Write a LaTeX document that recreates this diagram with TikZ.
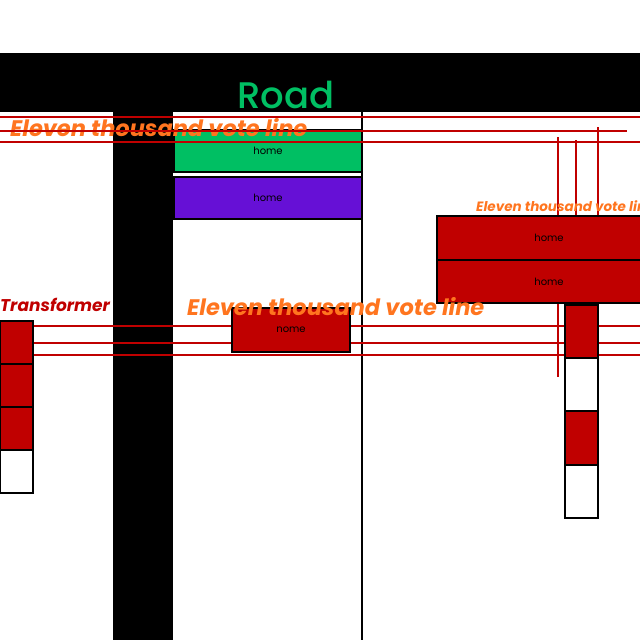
\documentclass[tikz,border=0pt]{standalone}
\usepackage{fontspec}
\setmainfont{Poppins}
\newfontfamily\roadfont{Poppins Medium}
\usepackage{tikz}
\definecolor{roadgreen}{HTML}{00BF63}
\definecolor{homepurple}{HTML}{6610D6}
\definecolor{wirered}{HTML}{C00000}
\definecolor{voteorange}{HTML}{FF751F}
\tikzset{
	house/.style={draw=black, line width=1.5pt, inner sep=0pt, outer sep=0pt, font=\fontsize{10}{10}\selectfont},
	wire/.style={draw=wirered, line width=2.3pt},
	votelabel/.style={text=voteorange, anchor=base west, inner sep=0pt, font=\bfseries\itshape}
}

\begin{document}
\begin{tikzpicture}[x=1pt,y=-1pt]
	\useasboundingbox (0,0) rectangle (640,640);
	\clip (0,0) rectangle (640,640);
	% road
	\fill[black](0,53) rectangle (640,112);
	\fill[black](113,112) rectangle (173,640);
	\draw[black, line width=2pt](362,112)--(362,640);
	\node[text=roadgreen, anchor=base, inner sep=0pt, font=\fontsize{37}{37}\selectfont\roadfont] (road) at (286,108) {Road};
	% vertical wires to the right homes
	\draw[wire](558,137)--(558,377);
	\draw[wire](576,140)--(576,377);
	\draw[wire](598,127)--(598,380);
	% transformer wires
	\draw[wire](33,326)--(640,326);
	\draw[wire](33,343)--(640,343);
	\draw[wire, line width=2.8pt](33,355)--(640,355);
	% homes
	\node[house, fill=roadgreen, minimum width=188pt, minimum height=42pt] (h1) at (268,151) {home};
	\node[house, fill=homepurple, minimum width=188pt, minimum height=42pt] (h2) at (268,198) {home};
	\node[house, fill=wirered, minimum width=224pt, minimum height=44pt] (h3) at (549,238) {home};
	\node[house, fill=wirered, minimum width=224pt, minimum height=43pt] (h4) at (549,281.5) {home};
	\node[house, fill=wirered, minimum width=118pt, minimum height=44pt] (h5) at (291,330) {nome};
	% pole on the right
	\node[house, fill=wirered, minimum width=33pt, minimum height=53pt] (p1) at (581.5,331.5) {};
	\node[house, fill=white, minimum width=33pt, minimum height=53pt] (p2) at (581.5,384.5) {};
	\node[house, fill=wirered, minimum width=33pt, minimum height=54pt] (p3) at (581.5,438) {};
	\node[house, fill=white, minimum width=33pt, minimum height=53pt] (p4) at (581.5,491.5) {};
	% transformer
	\node[house, fill=wirered, minimum width=33pt, minimum height=43pt] (t1) at (16.5,342.5) {};
	\node[house, fill=wirered, minimum width=33pt, minimum height=43pt] (t2) at (16.5,385.5) {};
	\node[house, fill=wirered, minimum width=33pt, minimum height=43pt] (t3) at (16.5,428.5) {};
	\node[house, fill=white, minimum width=33pt, minimum height=43pt] (t4) at (16.5,471.5) {};
	\node[text=wirered, anchor=base west, inner sep=0pt, font=\fontsize{17}{17}\selectfont\bfseries\itshape] (tr) at (0,311) {Transformer};
	% labels
	\node[votelabel, font=\fontsize{22.5}{22.5}\selectfont\bfseries\itshape] (v1) at (10,136) {Eleven thousand vote line};
	\node[votelabel, font=\fontsize{22.5}{22.5}\selectfont\bfseries\itshape] (v2) at (187,315) {Eleven thousand vote line};
	\node[votelabel, font=\fontsize{13.5}{13.5}\selectfont\bfseries\itshape] (v3) at (476,211) {Eleven thousand vote line};
	% vote lines at the top
	\draw[wire](0,117)--(640,117);
	\draw[wire](0,131)--(627,131);
	\draw[wire](0,142)--(640,142);
\end{tikzpicture}
\end{document}
